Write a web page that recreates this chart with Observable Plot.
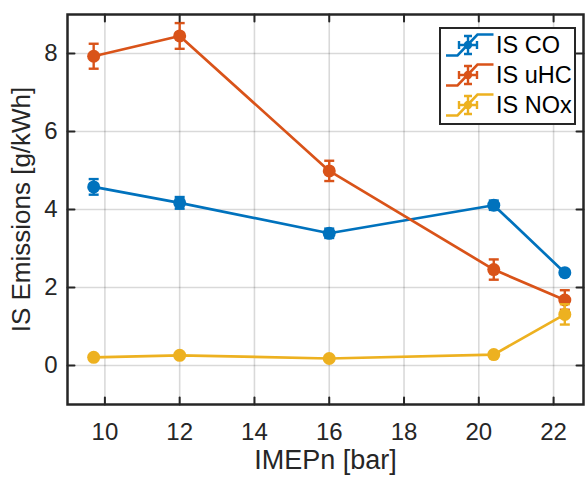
<!DOCTYPE html>
<html>
<head>
<meta charset="utf-8">
<script src="https://cdn.jsdelivr.net/npm/d3@7"></script>
<script src="https://cdn.jsdelivr.net/npm/@observablehq/plot@0.6"></script>
<style>
  body { margin: 0; background: #fff; }
  #wrap { position: relative; width: 585px; height: 477px; overflow: hidden; }
  #legend {
    position: absolute; left: 439px; top: 27px; width: 133px; height: 93px;
    border: 2px solid #262626; background: #fff; padding-top: 1px; box-sizing: content-box;
    font-family: "Liberation Sans", Arial, Helvetica, sans-serif; font-size: 23.5px; color: #000;
  }
  .row { display: flex; align-items: center; height: 30px; }
  .row svg { margin-left: 5px; margin-right: 2px; flex: none; }
  g[aria-label="x-axis label"] text { font-size: 27px; }
  g[aria-label="y-axis label"] text { font-size: 26px; }
</style>
</head>
<body>
<div id="wrap">
  <div id="chart"></div>
  <div id="legend"></div>
</div>
<script>
// ---- data ----
const imep = [9.7, 12, 16, 20.4, 22.3];
const co = [4.58, 4.17, 3.39, 4.11, 2.38];
const coErr = [0.2, 0.15, 0.12, 0.12, 0.05];
const uhc = [7.93, 8.45, 4.99, 2.46, 1.68];
const uhcErr = [0.32, 0.33, 0.26, 0.26, 0.25];
const nox = [0.21, 0.26, 0.18, 0.28, 1.31];
const noxErr = [0.04, 0.04, 0.04, 0.04, 0.26];
const seriesNames = ["IS CO", "IS uHC", "IS NOx"];
const seriesColors = ["#0072BD", "#D95319", "#EDB120"];
const xTicks = [10, 12, 14, 16, 18, 20, 22];
const yTicks = [0, 2, 4, 6, 8];

const seriesValues = [co, uhc, nox];
const seriesErrors = [coErr, uhcErr, noxErr];

const capSymbol = {
  draw(context, size) {
    const w = Math.sqrt(size / Math.PI);
    context.moveTo(-w, 0);
    context.lineTo(w, 0);
  }
};
const tickShape = {
  draw(context, l) {
    context.moveTo(0, 0);
    context.lineTo(0, -l);
  }
};

const seriesMarks = [];
seriesNames.forEach((name, k) => {
  const rows = imep.map((x, i) => ({
    series: name, x, y: seriesValues[k][i], e: seriesErrors[k][i]
  }));
  const color = seriesColors[k];
  seriesMarks.push(
    Plot.line(rows, {x: "x", y: "y", stroke: color, strokeWidth: 2.7}),
    Plot.ruleX(rows, {x: "x", y1: d => d.y - d.e, y2: d => d.y + d.e, stroke: color, strokeWidth: 2.4}),
    Plot.dot(rows, {x: "x", y: d => d.y - d.e, symbol: capSymbol, r: 5, stroke: color, strokeWidth: 2.4, fill: "none"}),
    Plot.dot(rows, {x: "x", y: d => d.y + d.e, symbol: capSymbol, r: 5, stroke: color, strokeWidth: 2.4, fill: "none"}),
    Plot.dot(rows, {x: "x", y: "y", r: 6.5, fill: color, stroke: "none"})
  );
});

const axisColor = "#262626";
const gridStyle = {stroke: "#000", strokeOpacity: 0.15, strokeWidth: 1.6};

const chart = Plot.plot({
  width: 585,
  height: 477,
  marginLeft: 67,
  marginRight: 2,
  marginTop: 14,
  marginBottom: 73,
  style: {
    fontFamily: '"Liberation Sans", Arial, Helvetica, sans-serif',
    fontSize: "24px",
    color: axisColor,
    background: "white",
    overflow: "visible"
  },
  x: {domain: [9, 22.8]},
  y: {domain: [-1, 9]},
  marks: [
    Plot.gridX(xTicks, gridStyle),
    Plot.gridY(yTicks, gridStyle),
    ...seriesMarks,
    Plot.axisX(xTicks, {
      tickSize: 0, tickPadding: 18, fontSize: 24,
      label: "IMEPn [bar]", labelAnchor: "center", labelOffset: 64, labelArrow: "none"
    }),
    Plot.axisY(yTicks, {
      tickSize: 0, tickPadding: 10, fontSize: 24,
      label: "IS Emissions [g/kWh]", labelAnchor: "center", labelOffset: 56, labelArrow: "none"
    }),
    Plot.vector(xTicks, {x: d => d, frameAnchor: "bottom", rotate: 0, length: 7, anchor: "start", shape: tickShape, stroke: axisColor, strokeWidth: 2}),
    Plot.vector(xTicks, {x: d => d, frameAnchor: "top", rotate: 180, length: 7, anchor: "start", shape: tickShape, stroke: axisColor, strokeWidth: 2}),
    Plot.vector(yTicks, {y: d => d, frameAnchor: "left", rotate: 90, length: 7, anchor: "start", shape: tickShape, stroke: axisColor, strokeWidth: 2}),
    Plot.vector(yTicks, {y: d => d, frameAnchor: "right", rotate: -90, length: 7, anchor: "start", shape: tickShape, stroke: axisColor, strokeWidth: 2}),
    Plot.frame({stroke: axisColor, strokeWidth: 2.5})
  ]
});
document.getElementById("chart").appendChild(chart);

// ---- legend (drawn inside the axes, MATLAB-style errorbar icons) ----
const legend = document.getElementById("legend");
seriesNames.forEach((name, k) => {
  const c = seriesColors[k];
  const row = document.createElement("div");
  row.className = "row";
  row.innerHTML = `
    <svg width="48" height="26" viewBox="0 0 48 26">
      <path d="M0,23.5 L11.5,23.5 L31.5,2.5 L47.5,2.5" fill="none" stroke="${c}" stroke-width="2.6"/>
      <path d="M22,4 L22,22 M18,4 L26,4 M18,22 L26,22 M13,13 L31,13 M13,9 L13,17 M31,9 L31,17" fill="none" stroke="${c}" stroke-width="2.4"/>
      <circle cx="22" cy="13" r="4.2" fill="${c}"/>
    </svg>
    <span>${name}</span>`;
  legend.appendChild(row);
});
</script>
</body>
</html>
